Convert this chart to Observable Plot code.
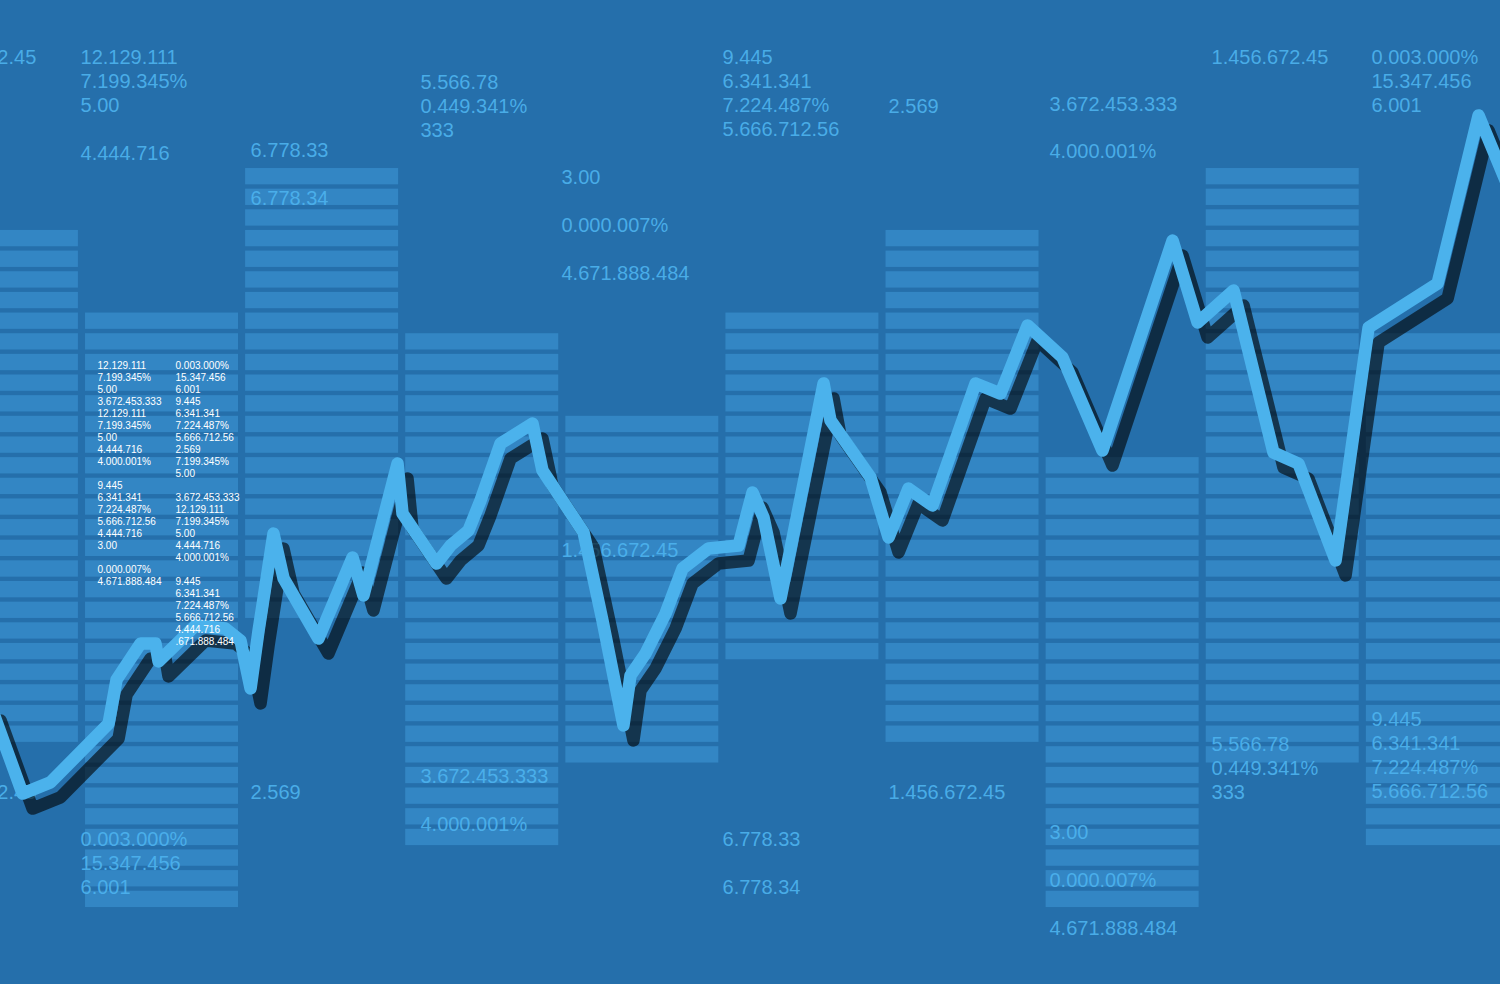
<!DOCTYPE html>
<html>
<head>
<meta charset="utf-8">
<script src="https://cdn.jsdelivr.net/npm/d3@7"></script>
<script src="https://cdn.jsdelivr.net/npm/@observablehq/plot@0.6"></script>
<style>
  html, body { margin: 0; padding: 0; background: #256fab; overflow: hidden; }
  #chart { width: 1500px; height: 984px; overflow: hidden; }
</style>
</head>
<body>
<div id="chart"></div>
<script>
// ---- columns of stacked segments (level units, one unit per segment) ----
const columns = [0, 1, 2, 3, 4, 5, 6, 7, 8, 9];
const colHigh = [37, 33, 40, 32, 28, 33, 37, 26, 40, 32];
const colLow  = [13,  5, 19,  8, 12, 17, 13,  5, 12,  8];

// ---- price line (x in column units, y in level units) ----
const lineX = [0.407, 0.607, 0.781, 1.144, 1.194, 1.344, 1.437, 1.456, 1.687, 1.874,
  1.968, 2.031, 2.081, 2.174, 2.237, 2.455, 2.668, 2.736, 2.949, 2.980,
  3.192, 3.280, 3.392, 3.467, 3.592, 3.792, 3.854, 4.111, 4.229, 4.360,
  4.404, 4.498, 4.623, 4.729, 4.891, 5.079, 5.166, 5.235, 5.341, 5.610,
  5.653, 5.903, 6.016, 6.140, 6.290, 6.559, 6.715, 6.884, 7.102, 7.352,
  7.790, 7.946, 8.171, 8.420, 8.576, 8.808, 9.014, 9.445, 9.701, 10.026];
const lineY = [14.00, 9.73, 10.27, 13.12, 15.25, 17.00, 17.00, 16.13, 17.87, 17.72,
  17.14, 14.82, 17.63, 22.32, 20.15, 17.24, 21.16, 19.32, 25.71, 23.29,
  20.87, 21.74, 22.47, 23.92, 26.68, 27.65, 25.38, 22.37, 18.11, 13.03,
  15.45, 16.51, 18.45, 20.63, 21.60, 21.74, 24.31, 23.10, 19.18, 29.59,
  27.80, 25.04, 22.13, 24.50, 23.68, 29.59, 29.10, 32.40, 30.85, 26.34,
  36.51, 32.54, 34.09, 26.25, 25.71, 21.02, 32.30, 34.43, 42.57, 36.51];

// ---- blue value labels ----
const labelX = [-0.037, 0.969, 2.031, 3.092, 3.973, 4.979, 6.016, 7.021, 8.033, 9.032,
  -0.037, 0.969, 2.031, 3.092, 3.973, 4.979, 6.016, 7.021, 8.033, 9.032];
const labelY = [45.38, 45.38, 40.92, 44.21, 39.61, 45.38, 43.05, 43.15, 45.38, 45.38,
  9.83, 7.51, 9.83, 10.56, 21.55, 7.55, 9.83, 7.89, 12.15, 13.32];
const labelText = [
  "1.456.672.45",
  "12.129.111\n7.199.345%\n5.00\n\n4.444.716",
  "6.778.33\n\n6.778.34",
  "5.566.78\n0.449.341%\n333",
  "3.00\n\n0.000.007%\n\n4.671.888.484",
  "9.445\n6.341.341\n7.224.487%\n5.666.712.56",
  "2.569",
  "3.672.453.333\n\n4.000.001%",
  "1.456.672.45",
  "0.003.000%\n15.347.456\n6.001",
  "1.456.672.45",
  "0.003.000%\n15.347.456\n6.001",
  "2.569",
  "3.672.453.333\n\n4.000.001%",
  "1.456.672.45",
  "6.778.33\n\n6.778.34",
  "1.456.672.45",
  "3.00\n\n0.000.007%\n\n4.671.888.484",
  "5.566.78\n0.449.341%\n333",
  "9.445\n6.341.341\n7.224.487%\n5.666.712.56"
];

// ---- small white ticker block ----
const tickerX = [1.075, 1.562];
const tickerY = [30.46, 30.46];
const tickerText = [
  "12.129.111\n7.199.345%\n5.00\n3.672.453.333\n12.129.111\n7.199.345%\n5.00\n4.444.716\n4.000.001%\n\n9.445\n6.341.341\n7.224.487%\n5.666.712.56\n4.444.716\n3.00\n\n0.000.007%\n4.671.888.484",
  "0.003.000%\n15.347.456\n6.001\n9.445\n6.341.341\n7.224.487%\n5.666.712.56\n2.569\n7.199.345%\n5.00\n\n3.672.453.333\n12.129.111\n7.199.345%\n5.00\n4.444.716\n4.000.001%\n\n9.445\n6.341.341\n7.224.487%\n5.666.712.56\n4.444.716\n.671.888.484"
];

// ---- build tables ----
const colWidth = 0.9556;   // fraction of a column slot covered by the bar
const segHeight = 0.79;    // fraction of a level covered by a segment
const segments = [];
columns.forEach((c, i) => {
  for (let lv = colHigh[i]; lv >= colLow[i]; lv--) {
    segments.push({x1: c, x2: c + colWidth, y1: lv, y2: lv - segHeight});
  }
});
const linePts = lineX.map((x, i) => ({x, y: lineY[i]}));
const labels = labelX.map((x, i) => ({x, y: labelY[i], text: labelText[i]}));
const tickers = tickerX.map((x, i) => ({x, y: tickerY[i], text: tickerText[i]}));

const font = "'Liberation Sans', Arial, Helvetica, sans-serif";

const chart = Plot.plot({
  width: 1500,
  height: 984,
  margin: 0,
  x: {domain: [0.469, 9.838], axis: null},
  y: {domain: [0.484, 48.136], axis: null},
  style: {background: "#256fab", fontFamily: font, overflow: "hidden"},
  marks: [
    Plot.rect(segments, {x1: "x1", x2: "x2", y1: "y1", y2: "y2", fill: "#3386c4", clip: true}),
    Plot.text(labels, {x: "x", y: "y", text: "text", fill: "#4db3ee", fillOpacity: 0.92,
      fontSize: 20, lineHeight: 1.2, lineAnchor: "top", textAnchor: "start", dy: -10, fontFamily: font}),
    Plot.line(linePts, {x: "x", y: "y", stroke: "#000000", strokeOpacity: 0.6, strokeWidth: 12.5,
      strokeLinejoin: "round", strokeLinecap: "round", dx: 10, dy: 15, clip: true}),
    Plot.line(linePts, {x: "x", y: "y", stroke: "#4bb2ec", strokeWidth: 12.5,
      strokeLinejoin: "round", strokeLinecap: "round", clip: true}),
    Plot.text(tickers, {x: "x", y: "y", text: "text", fill: "#ffffff",
      fontSize: 10, lineHeight: 1.2, lineAnchor: "top", textAnchor: "start", dy: -5, fontFamily: font})
  ]
});
document.getElementById("chart").appendChild(chart);
</script>
</body>
</html>
